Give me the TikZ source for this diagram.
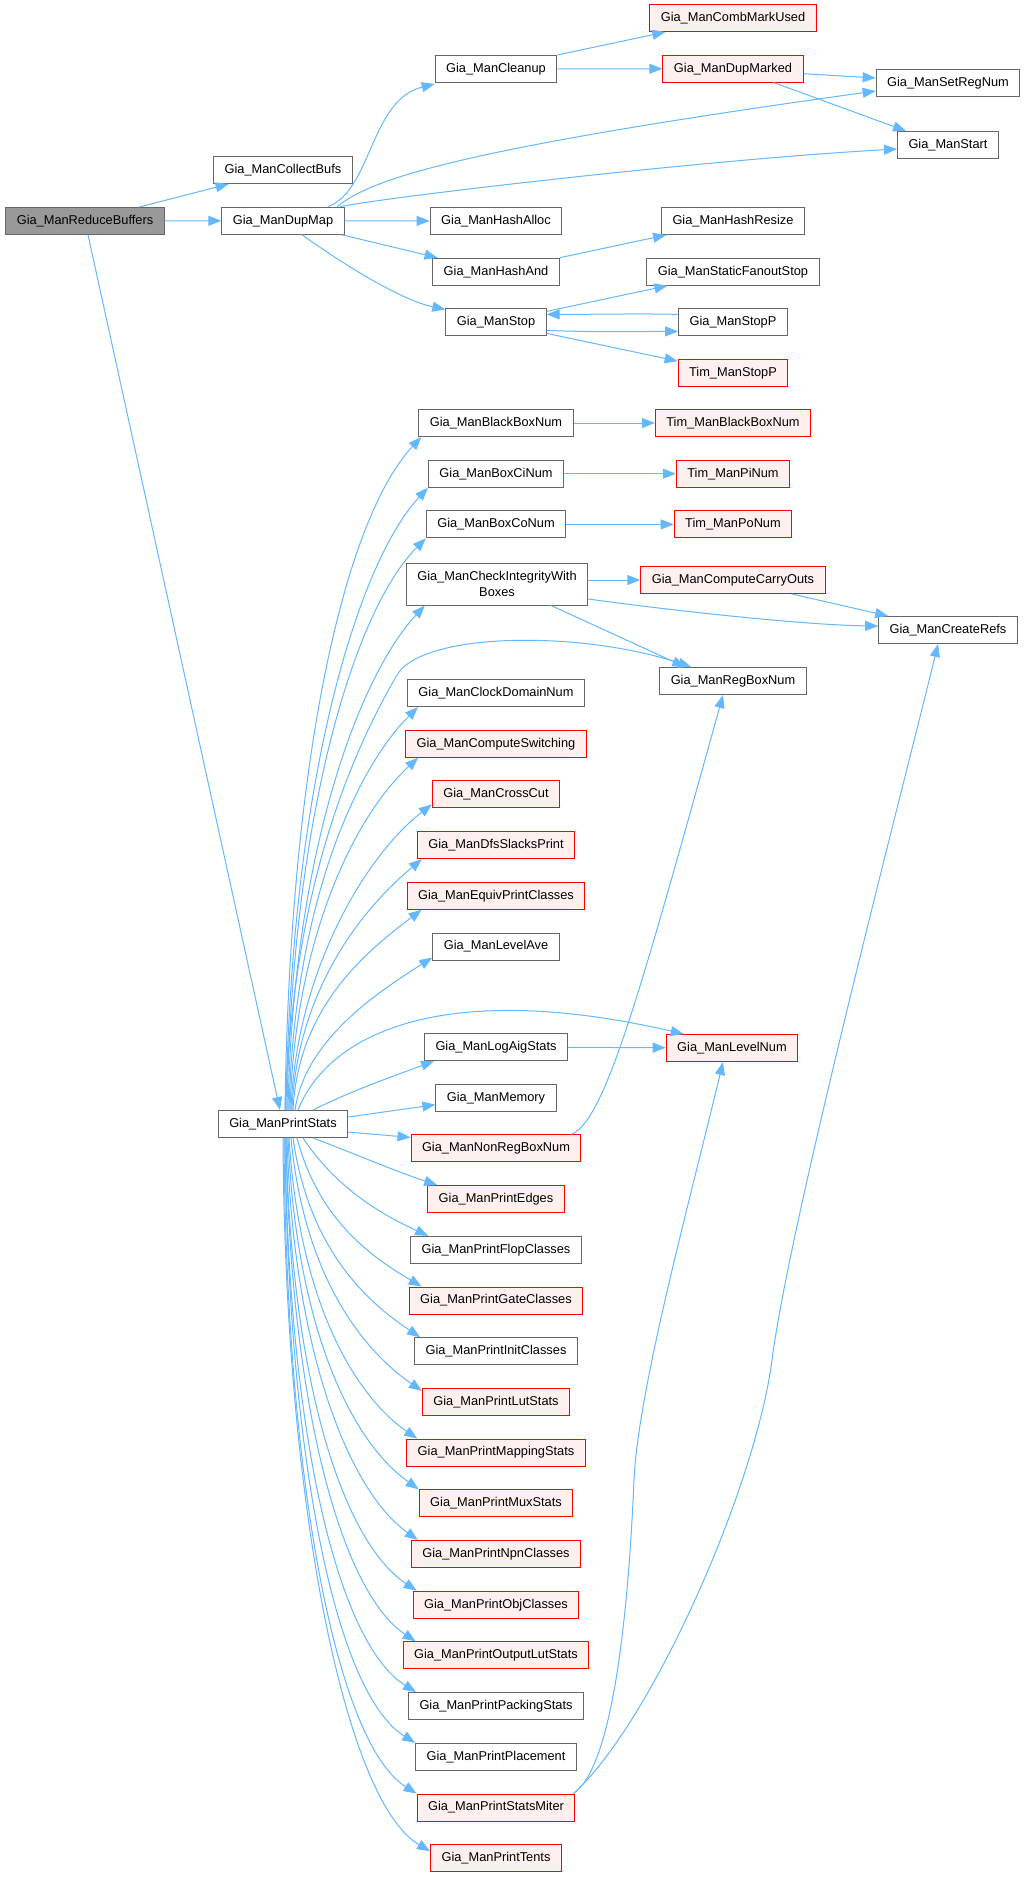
\documentclass[tikz,border=0pt]{standalone}
\usepackage{fontspec}
\setmainfont{Liberation Sans}
\usetikzlibrary{arrows.meta, positioning}
\definecolor{nodegray}{HTML}{666666}
\definecolor{rootgray}{HTML}{999999}
\definecolor{callred}{HTML}{FF0000}
\definecolor{callpink}{HTML}{FFF0F0}
\definecolor{edgeblue}{HTML}{63B8FF}

\begin{document}
\begin{tikzpicture}[x=1pt, y=1pt, node distance=50.7pt]
\tikzstyle{fn} = [rectangle, draw=nodegray, fill=white, line width=1pt, minimum height=27pt, inner xsep=11pt, inner ysep=2pt, align=center, font=\fontsize{12.8}{16}\selectfont]
\tikzstyle{fnred} = [fn, draw=callred, fill=callpink]
\tikzstyle{fnroot} = [fn, fill=rootgray]
\tikzstyle{call} = [draw=edgeblue, line width=1pt, -{Triangle[length=13pt, width=10pt]}]

\fill [white] (0,0) rectangle (1023,-1877);
\useasboundingbox (0,0) rectangle (1023,-1877);

% caller and first level
\node (rb) [fnroot] at (85,-221) {Gia\_ManReduceBuffers};
\node (cb) [fn] at (283,-170) {Gia\_ManCollectBufs};
\node (dm) [fn, below of=cb] {Gia\_ManDupMap};
\node (ps) [fn] at (283,-1124) {Gia\_ManPrintStats};

% callees of DupMap
\node (cl) [fn] at (496,-69) {Gia\_ManCleanup};
\node (ha) [fn] at (496,-221) {Gia\_ManHashAlloc};
\node (hand) [fn, below of=ha] {Gia\_ManHashAnd};
\node (stp) [fn, below of=hand] {Gia\_ManStop};
\node (cmu) [fnred] at (733,-18) {Gia\_ManCombMarkUsed};
\node (dmk) [fnred, below of=cmu] {Gia\_ManDupMarked};
\node (hr) [fn] at (733,-221) {Gia\_ManHashResize};
\node (sfs) [fn, below of=hr] {Gia\_ManStaticFanoutStop};
\node (spp) [fn, below of=sfs] {Gia\_ManStopP};
\node (tsp) [fnred, below of=spp] {Tim\_ManStopP};
\node (srn) [fn] at (948,-83) {Gia\_ManSetRegNum};
\node (sta) [fn] at (948,-145) {Gia\_ManStart};

% callees of PrintStats
\node (bbn) [fn] at (496,-423) {Gia\_ManBlackBoxNum};
\node (bci) [fn, below of=bbn] {Gia\_ManBoxCiNum};
\node (bco) [fn, below of=bci] {Gia\_ManBoxCoNum};
\node (cib) [fn, minimum height=42pt] at (497,-584) {Gia\_ManCheckIntegrityWith\\Boxes};
\node (cdn) [fn] at (496,-693) {Gia\_ManClockDomainNum};
\node (csw) [fnred, below of=cdn] {Gia\_ManComputeSwitching};
\node (crc) [fnred, below of=csw] {Gia\_ManCrossCut};
\node (dsp) [fnred, below of=crc] {Gia\_ManDfsSlacksPrint};
\node (epc) [fnred, below of=dsp] {Gia\_ManEquivPrintClasses};
\node (lav) [fn, below of=epc] {Gia\_ManLevelAve};
\node (las) [fn] at (496,-1047) {Gia\_ManLogAigStats};
\node (mem) [fn, below of=las] {Gia\_ManMemory};
\node (nrb) [fnred, below of=mem] {Gia\_ManNonRegBoxNum};
\node (pe) [fnred, below of=nrb] {Gia\_ManPrintEdges};
\node (pfc) [fn, below of=pe] {Gia\_ManPrintFlopClasses};
\node (pgc) [fnred, below of=pfc] {Gia\_ManPrintGateClasses};
\node (pic) [fn, below of=pgc] {Gia\_ManPrintInitClasses};
\node (pls) [fnred, below of=pic] {Gia\_ManPrintLutStats};
\node (pms) [fnred, below of=pls] {Gia\_ManPrintMappingStats};
\node (pmx) [fnred, below of=pms] {Gia\_ManPrintMuxStats};
\node (pnc) [fnred, below of=pmx] {Gia\_ManPrintNpnClasses};
\node (poc) [fnred, below of=pnc] {Gia\_ManPrintObjClasses};
\node (pol) [fnred, below of=poc] {Gia\_ManPrintOutputLutStats};
\node (pps) [fn, below of=pol] {Gia\_ManPrintPackingStats};
\node (ppl) [fn, below of=pps] {Gia\_ManPrintPlacement};
\node (psm) [fnred, below of=ppl] {Gia\_ManPrintStatsMiter};
\node (pt) [fnred, below of=psm] {Gia\_ManPrintTents};

% third level
\node (tbb) [fnred] at (733,-423) {Tim\_ManBlackBoxNum};
\node (tpi) [fnred, below of=tbb] {Tim\_ManPiNum};
\node (tpo) [fnred, below of=tpi] {Tim\_ManPoNum};
\node (cco) [fnred] at (733,-580) {Gia\_ManComputeCarryOuts};
\node (rbn) [fn] at (733,-681) {Gia\_ManRegBoxNum};
\node (lvn) [fnred] at (732,-1048) {Gia\_ManLevelNum};
\node (cr) [fn] at (948,-630) {Gia\_ManCreateRefs};

% ReduceBuffers calls
\draw [call] (rb) -- (cb);
\draw [call] (rb) -- (dm);
\draw [call] (rb) -- (ps);

% DupMap calls
\draw [call] ([xshift=45]dm.north) .. controls (372,-190) and (370,-100) .. ([yshift=-1]cl.south west);
\draw [call] ([xshift=54]dm.north) .. controls (370,-180) and (450,-150) .. ([yshift=-8]srn.west);
\draw [call] ([xshift=57]dm.north) .. controls (380,-198) and (700,-160) .. ([yshift=-4]sta.west);
\draw [call] (dm) -- (ha);
\draw [call] (dm) -- (hand);
\draw [call] ([xshift=19]dm.south) .. controls (340,-262) and (400,-300) .. ([yshift=-1]stp.north west);
\draw [call] (cl.north east) -- ([xshift=16]cmu.south west);
\draw [call] (cl) -- (dmk);
\draw [call] ([yshift=-5]dmk.east) -- ([yshift=5]srn.west);
\draw [call] ([xshift=41]dmk.south) -- ([xshift=9]sta.north west);
\draw [call] (hand.north east) -- ([xshift=5]hr.south west);
\draw [call] ([yshift=-3]stp.north east) -- ([xshift=21]sfs.south west);
\draw [call] ([yshift=-8]stp.east) .. controls +(50,-2) and +(-40,0) .. ([yshift=-9]spp.west);
\draw [call] ([yshift=8]spp.west) .. controls +(-40,1) and +(50,0) .. ([yshift=8]stp.east);
\draw [call] ([yshift=-11]stp.east) -- ([yshift=-2]tsp.north west);

% PrintStats calls, upwards
\draw [call] ([xshift=2]ps.north) .. controls +(5,360) and +(-75,-80) .. ([xshift=3]bbn.south west);
\draw [call] ([xshift=3]ps.north) .. controls +(5,330) and +(-70,-75) .. (bci.south west);
\draw [call] ([xshift=4]ps.north) .. controls +(5,300) and +(-70,-70) .. (bco.south west);
\draw [call] ([xshift=5]ps.north) .. controls +(5,260) and +(-65,-70) .. ([xshift=19]cib.south west);
\draw [call] ([xshift=2]ps.north) .. controls (292,-930) and (330,-790) .. (397,-675) .. controls (422,-632) and (580,-630) .. ([xshift=32]rbn.north west);
\draw [call] ([xshift=6]ps.north) .. controls +(5,200) and +(-65,-65) .. ([xshift=11]cdn.south west);
\draw [call] ([xshift=7]ps.north) .. controls +(5,170) and +(-65,-60) .. ([xshift=13]csw.south west);
\draw [call] ([xshift=8]ps.north) .. controls +(5,140) and +(-65,-50) .. ([yshift=4]crc.south west);
\draw [call] ([xshift=9]ps.north) .. controls +(5,120) and +(-60,-50) .. ([xshift=5]dsp.south west);
\draw [call] ([xshift=10]ps.north) .. controls +(5,100) and +(-60,-45) .. ([xshift=15]epc.south west);
\draw [call] ([xshift=12]ps.north) .. controls +(10,70) and +(-55,-35) .. ([yshift=3]lav.south west);
\draw [call] ([xshift=15]ps.north) .. controls (330,-1030) and (450,-980) .. ([xshift=18]lvn.north west);
\draw [call] ([xshift=30]ps.north) .. controls +(40,20) and +(-40,-15) .. ([xshift=10]las.south west);
\draw [call] ([yshift=7]ps.east) -- ([yshift=-7]mem.west);
\draw [call] ([yshift=-8]ps.east) -- ([yshift=11]nrb.west);

% PrintStats calls, downwards
\draw [call] ([xshift=30]ps.south) .. controls +(40,-15) and +(-45,15) .. ([xshift=10]pe.north west);
\draw [call] ([xshift=20]ps.south) .. controls +(30,-45) and +(-55,25) .. ([xshift=18]pfc.north west);
\draw [call] ([xshift=14]ps.south) .. controls +(20,-75) and +(-60,35) .. ([xshift=13]pgc.north west);
\draw [call] ([xshift=10]ps.south) .. controls +(15,-105) and +(-60,40) .. ([xshift=6]pic.north west);
\draw [call] ([xshift=8]ps.south) .. controls +(12,-130) and +(-65,45) .. ([yshift=-3]pls.north west);
\draw [call] ([xshift=6]ps.south) .. controls +(10,-160) and +(-65,45) .. ([xshift=11]pms.north west);
\draw [call] ([xshift=5]ps.south) .. controls +(8,-185) and +(-70,50) .. (pmx.north west);
\draw [call] ([xshift=4]ps.south) .. controls +(6,-210) and +(-70,50) .. ([xshift=7]pnc.north west);
\draw [call] ([xshift=3]ps.south) .. controls +(5,-240) and +(-75,50) .. ([xshift=4]poc.north west);
\draw [call] ([xshift=3]ps.south) .. controls +(4,-265) and +(-75,50) .. ([xshift=13]pol.north west);
\draw [call] ([xshift=2]ps.south) .. controls +(3,-290) and +(-80,50) .. ([xshift=8]pps.north west);
\draw [call] ([xshift=2]ps.south) .. controls +(3,-320) and +(-80,50) .. (ppl.north west);
\draw [call] ([xshift=1]ps.south) .. controls +(2,-345) and +(-80,50) .. (psm.north west);
\draw [call] (ps.south) .. controls +(2,-370) and +(-85,50) .. ([yshift=-7]pt.north west);

% third level calls
\draw [call] (bbn) -- (tbb);
\draw [call] (bci) -- (tpi);
\draw [call] (bco) -- (tpo);
\draw [call] (cib.east |- cco.west) -- (cco.west);
\draw [call] ([yshift=-15]cib.east) .. controls (660,-609) and (800,-625) .. ([yshift=4]cr.west);
\draw [call] ([xshift=54]cib.south) -- ([xshift=26]rbn.north west);
\draw [call] ([xshift=59]cco.south) -- ([xshift=10]cr.north west);
\draw [call] (las) -- (lvn);
\draw [call] ([xshift=-10]nrb.north east) .. controls (605,-1120) and (639,-997) .. ([xshift=-10]rbn.south);
\draw [call] ([xshift=-2]psm.north east) .. controls (612,-1768) and (628,-1620) .. (634,-1480) .. controls (638,-1390) and (690,-1200) .. ([xshift=-9]lvn.south);
\draw [call] ([xshift=-2]psm.north east) .. controls (650,-1725) and (755,-1490) .. (772,-1360) .. controls (790,-1220) and (905,-780) .. ([xshift=-10]cr.south);

\end{tikzpicture}
\end{document}
